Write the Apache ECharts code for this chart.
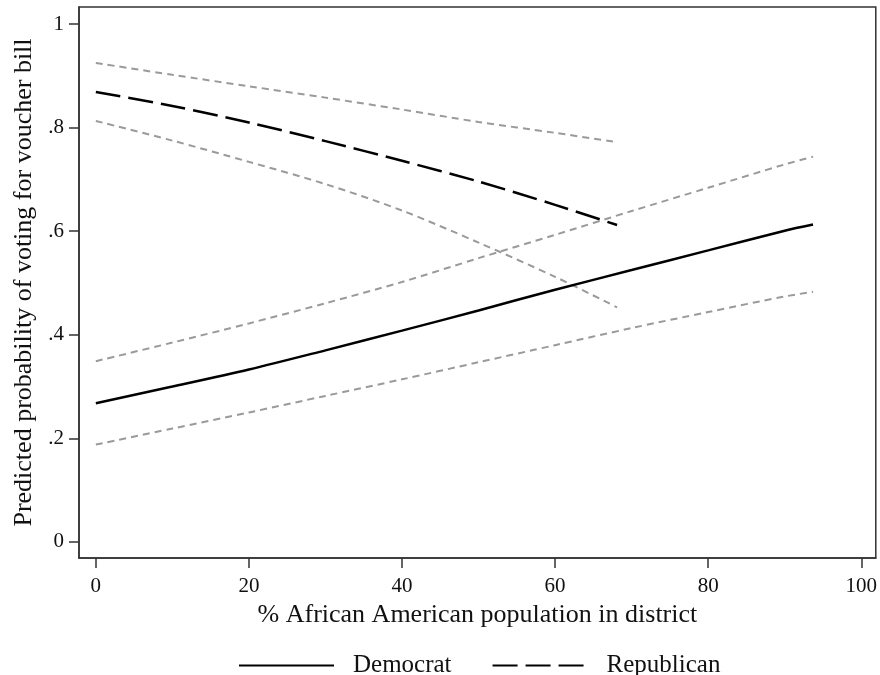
<!DOCTYPE html>
<html>
<head>
<meta charset="utf-8">
<script src="https://cdn.jsdelivr.net/npm/echarts@6/dist/echarts.min.js"></script>
<style>html,body{margin:0;padding:0;background:#fff}#c{width:880px;height:675px}</style>
</head>
<body>
<div id="c"></div>
<script>
const demX = [0, 10, 20, 30, 40, 50, 60, 70, 80, 90, 93.7];
const demMean = [0.268, 0.300, 0.333, 0.370, 0.408, 0.447, 0.487, 0.525, 0.563, 0.601, 0.613];
const demUpper = [0.349, 0.385, 0.422, 0.461, 0.502, 0.548, 0.593, 0.639, 0.684, 0.729, 0.744];
const demLower = [0.188, 0.219, 0.250, 0.282, 0.314, 0.347, 0.380, 0.413, 0.444, 0.474, 0.483];

const repX = [0, 10, 20, 30, 40, 50, 60, 68.1];
const repMean = [0.869, 0.842, 0.810, 0.774, 0.736, 0.696, 0.651, 0.612];
const repUpper = [0.925, 0.902, 0.880, 0.858, 0.835, 0.811, 0.790, 0.772];
const repLower = [0.813, 0.775, 0.734, 0.691, 0.640, 0.578, 0.512, 0.453];

const xTicks = [0, 20, 40, 60, 80, 100];
const yTicks = [0, 0.2, 0.4, 0.6, 0.8, 1];
const yTickLabels = ['0', '.2', '.4', '.6', '.8', '1'];

const xTitle = '% African American population in district';
const yTitle = 'Predicted probability of voting for voucher bill';
const seriesNames = ['Democrat', 'Republican'];

function pairs(xs, ys) { return xs.map((x, i) => [x, ys[i]]); }

const FONT = 'Liberation Serif';
const chart = echarts.init(document.getElementById('c'), null, {renderer: 'canvas'});

const ciStyle = {color: '#9a9a9a', width: 2, type: [7, 5]};

chart.setOption({
  animation: false,
  backgroundColor: '#fff',
  grid: {left: 79, right: 1, top: 7, bottom: 117, show: true, borderColor: '#333', borderWidth: 1.5, backgroundColor: '#fff'},
  legend: {
    data: seriesNames,
    top: 648,
    left: 233,
    itemWidth: 95,
    itemHeight: 20,
    itemGap: 40,
    itemStyle: {opacity: 0},
    textStyle: {fontFamily: FONT, fontSize: 25, color: '#111', padding: [0, 0, 0, 14]}
  },
  xAxis: {
    type: 'value',
    min: -2.2,
    max: 101.9,
    name: xTitle,
    nameLocation: 'middle',
    nameGap: 36,
    nameTextStyle: {fontFamily: FONT, fontSize: 26, color: '#111'},
    axisLine: {show: true, onZero: false, lineStyle: {color: '#333', width: 1.5}},
    axisTick: {show: true, length: 10, lineStyle: {color: '#333', width: 1.5}, customValues: xTicks},
    axisLabel: {fontFamily: FONT, fontSize: 21, color: '#111', margin: 18, customValues: xTicks},
    splitLine: {show: false}
  },
  yAxis: {
    type: 'value',
    min: -0.031,
    max: 1.033,
    name: yTitle,
    nameLocation: 'middle',
    nameGap: 38,
    nameRotate: 90,
    nameTextStyle: {fontFamily: FONT, fontSize: 26, color: '#111'},
    axisLine: {show: true, onZero: false, lineStyle: {color: '#333', width: 1.5}},
    axisTick: {show: true, length: 10, lineStyle: {color: '#333', width: 1.5}, customValues: yTicks},
    axisLabel: {
      fontFamily: FONT, fontSize: 21, color: '#111', margin: 15, customValues: yTicks,
      formatter: function (v) {
        const i = yTicks.findIndex(t => Math.abs(t - v) < 1e-6);
        return i >= 0 ? yTickLabels[i] : '';
      }
    },
    splitLine: {show: false}
  },
  series: [
    {name: 'demUpper', type: 'line', data: pairs(demX, demUpper), symbol: 'none', smooth: 0.3, lineStyle: ciStyle, z: 2},
    {name: 'demLower', type: 'line', data: pairs(demX, demLower), symbol: 'none', smooth: 0.3, lineStyle: ciStyle, z: 2},
    {name: 'repUpper', type: 'line', data: pairs(repX, repUpper), symbol: 'none', smooth: 0.3, lineStyle: ciStyle, z: 2},
    {name: 'repLower', type: 'line', data: pairs(repX, repLower), symbol: 'none', smooth: 0.3, lineStyle: ciStyle, z: 2},
    {name: seriesNames[0], type: 'line', data: pairs(demX, demMean), symbol: 'none', smooth: 0.3, color: '#000',
      lineStyle: {color: '#000', width: 2.5, type: 'solid'}, z: 3},
    {name: seriesNames[1], type: 'line', data: pairs(repX, repMean), symbol: 'none', smooth: 0.3, color: '#000',
      lineStyle: {color: '#000', width: 2.5, type: [25, 8]}, z: 3}
  ]
});
</script>
</body>
</html>
